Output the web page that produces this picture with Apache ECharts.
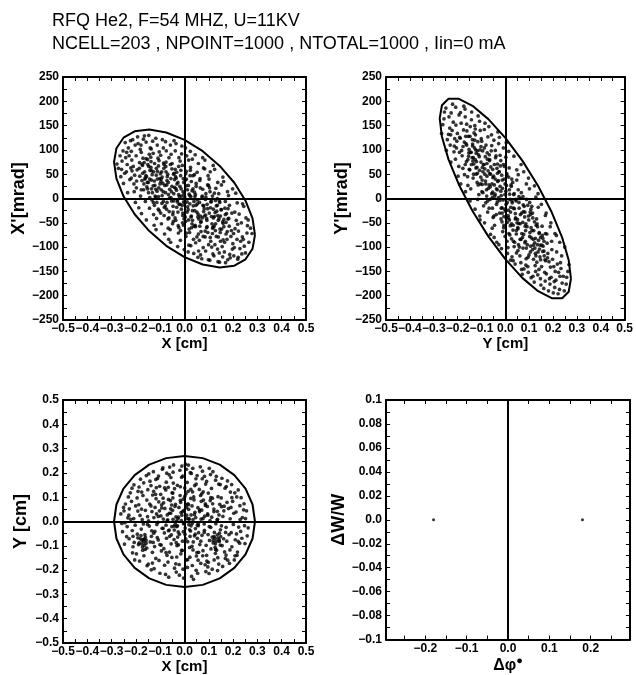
<!DOCTYPE html>
<html><head><meta charset="utf-8">
<script src="https://cdn.jsdelivr.net/npm/echarts@6/dist/echarts.min.js"></script>
<style>html,body{margin:0;padding:0;background:#fff}#c{width:636px;height:675px}</style>
</head><body><div id="c"></div>
<script>
const titleLines = ['RFQ He2, F=54 MHZ, U=11KV', 'NCELL=203 , NPOINT=1000 , NTOTAL=1000 , Iin=0 mA'];

// tick label values
const cmTicks = [-0.5,-0.4,-0.3,-0.2,-0.1,0,0.1,0.2,0.3,0.4,0.5];
const cmTickMarks = [-0.5,-0.45,-0.4,-0.35,-0.3,-0.25,-0.2,-0.15,-0.1,-0.05,0,0.05,0.1,0.15,0.2,0.25,0.3,0.35,0.4,0.45,0.5];
const mradTicks = [-250,-200,-150,-100,-50,0,50,100,150,200,250];
const mradTickMarks = [-250,-225,-200,-175,-150,-125,-100,-75,-50,-25,0,25,50,75,100,125,150,175,200,225,250];
const dphiTicks = [-0.2,-0.1,0,0.1,0.2];
const dphiTickMarks = [-0.25,-0.2,-0.15,-0.1,-0.05,0,0.05,0.1,0.15,0.2,0.25];
const dwTicks = [-0.1,-0.08,-0.06,-0.04,-0.02,0,0.02,0.04,0.06,0.08,0.1];
const dwTickMarks = [-0.1,-0.09,-0.08,-0.07,-0.06,-0.05,-0.04,-0.03,-0.02,-0.01,0,0.01,0.02,0.03,0.04,0.05,0.06,0.07,0.08,0.09,0.1];
const dphiRange = [-0.295, 0.295];

// emittance ellipses
const ellipseXXp = [[0.29,-74.8],[0.28,-103.5],[0.251,-125.1],[0.205,-138.3],[0.145,-141.9],[0.0751,-135.9],[0,-120.7],[-0.0751,-97.3],[-0.145,-67.1],[-0.205,-32.4],[-0.251,4.5],[-0.28,41],[-0.29,74.8],[-0.28,103.5],[-0.251,125.1],[-0.205,138.3],[-0.145,141.9],[-0.0751,135.9],[0,120.7],[0.0751,97.3],[0.145,67.1],[0.205,32.4],[0.251,-4.5],[0.28,-41],[0.29,-74.8]];
const ellipseYYp = [[0.275,-165],[0.2656,-191.8],[0.2382,-205.4],[0.1945,-205],[0.1375,-190.7],[0.0712,-163.3],[0,-124.9],[-0.0712,-77.9],[-0.1375,-25.6],[-0.1945,28.4],[-0.2382,80.5],[-0.2656,127.2],[-0.275,165],[-0.2656,191.8],[-0.2382,205.4],[-0.1945,205],[-0.1375,190.7],[-0.0712,163.3],[0,124.9],[0.0712,77.9],[0.1375,25.6],[0.1945,-28.4],[0.2382,-80.5],[0.2656,-127.2],[0.275,-165]];
const ellipseXY = [[0.29,0],[0.2801,0.0699],[0.2511,0.135],[0.2051,0.1909],[0.145,0.2338],[0.0751,0.2608],[0,0.27],[-0.0751,0.2608],[-0.145,0.2338],[-0.2051,0.1909],[-0.2511,0.135],[-0.2801,0.0699],[-0.29,0],[-0.2801,-0.0699],[-0.2511,-0.135],[-0.2051,-0.1909],[-0.145,-0.2338],[-0.0751,-0.2608],[0,-0.27],[0.0751,-0.2608],[0.145,-0.2338],[0.2051,-0.1909],[0.2511,-0.135],[0.2801,-0.0699],[0.29,0]];

// particles X [cm], X' [mrad]
const pointsXXp = [
[-0.272,62],[-0.265,88],[-0.278,71],[-0.262,45],
[-0.253,98],[-0.246,52],[-0.257,77],[-0.244,115],[-0.251,31],[-0.259,60],[-0.242,84],
[-0.231,104],[-0.225,39],[-0.236,70],[-0.222,119],[-0.239,55],[-0.228,88],[-0.234,12],[-0.221,63],[-0.238,95],
[-0.213,121],[-0.205,48],[-0.217,79],[-0.202,-8],[-0.219,97],[-0.208,30],[-0.211,66],[-0.203,110],[-0.216,57],[-0.207,14],[-0.219,42],
[-0.193,127],[-0.185,74],[-0.197,36],[-0.182,101],[-0.188,-19],[-0.195,59],[-0.184,46],[-0.199,88],[-0.181,5],[-0.191,113],[-0.186,62],[-0.198,22],
[-0.173,68],[-0.165,129],[-0.177,-31],[-0.162,42],[-0.178,95],[-0.168,18],[-0.171,83],[-0.164,55],[-0.179,110],[-0.161,-6],[-0.175,37],[-0.166,74],[-0.169,122],
[-0.153,33],[-0.145,91],[-0.157,-44],[-0.142,58],[-0.158,116],[-0.148,12],[-0.151,70],[-0.144,-20],[-0.159,47],[-0.141,104],[-0.155,24],[-0.147,130],[-0.152,80],[-0.143,40],
[-0.133,49],[-0.125,-55],[-0.137,102],[-0.122,27],[-0.138,64],[-0.128,-8],[-0.131,118],[-0.124,36],[-0.139,85],[-0.121,5],[-0.135,57],[-0.127,-33],[-0.129,93],[-0.136,20],[-0.123,72],
[-0.113,15],[-0.105,78],[-0.117,-64],[-0.102,41],[-0.118,124],[-0.108,-22],[-0.111,56],[-0.104,96],[-0.119,3],[-0.101,30],[-0.115,-41],[-0.107,67],[-0.112,110],[-0.106,22],[-0.116,48],
[-0.093,-10],[-0.085,62],[-0.097,35],[-0.082,-73],[-0.098,89],[-0.088,14],[-0.091,121],[-0.084,-35],[-0.099,51],[-0.081,27],[-0.095,-52],[-0.087,104],[-0.092,6],[-0.086,73],[-0.096,40],[-0.083,-18],
[-0.073,28],[-0.065,-84],[-0.077,66],[-0.062,1],[-0.078,117],[-0.068,-42],[-0.071,45],[-0.064,84],[-0.079,-15],[-0.061,19],[-0.075,98],[-0.067,-61],[-0.072,37],[-0.066,8],[-0.076,55],[-0.063,-27],
[-0.053,-5],[-0.045,50],[-0.057,-90],[-0.042,23],[-0.058,110],[-0.048,-33],[-0.051,72],[-0.044,10],[-0.059,-64],[-0.041,39],[-0.055,91],[-0.047,-16],[-0.052,61],[-0.046,-47],[-0.056,2],[-0.043,119],
[-0.033,17],[-0.025,-71],[-0.037,45],[-0.022,-12],[-0.038,98],[-0.028,-99],[-0.031,30],[-0.024,66],[-0.039,-40],[-0.021,4],[-0.035,113],[-0.027,-28],[-0.032,54],[-0.026,-56],[-0.036,21],[-0.023,84],[-0.029,-3],
[-0.013,-22],[-0.005,41],[-0.017,-86],[-0.002,9],[-0.018,77],[-0.008,-50],[-0.011,108],[-0.004,-7],[-0.019,25],[-0.001,-105],[-0.015,58],[-0.007,-35],[-0.012,92],[-0.006,14],[-0.016,-66],[-0.003,33],[-0.009,-14],
[0.012,18],[0.005,-47],[0.017,79],[0.002,-9],[0.018,-96],[0.008,40],[0.011,-28],[0.004,104],[0.019,-63],[0.001,3],[0.015,-110],[0.007,56],[0.013,-17],[0.006,-78],[0.016,27],[0.003,-38],[0.009,88],
[0.033,-25],[0.025,64],[0.037,-84],[0.022,6],[0.038,-113],[0.028,35],[0.031,-52],[0.024,97],[0.039,-6],[0.021,-70],[0.035,20],[0.027,-38],[0.032,81],[0.026,-97],[0.036,-15],[0.023,47],[0.029,-60],
[0.053,-3],[0.045,-58],[0.057,72],[0.042,-25],[0.058,-108],[0.048,31],[0.051,-79],[0.044,90],[0.059,-42],[0.041,13],[0.055,-121],[0.047,-14],[0.052,54],[0.046,-91],[0.056,-32],[0.043,4],
[0.073,-40],[0.065,22],[0.077,-101],[0.062,-8],[0.078,63],[0.068,-68],[0.071,-124],[0.064,41],[0.079,-27],[0.061,-86],[0.075,84],[0.067,-49],[0.072,3],[0.066,-116],[0.076,-14],[0.063,-57],
[0.093,-12],[0.085,-79],[0.097,47],[0.082,-36],[0.098,-126],[0.088,10],[0.091,-60],[0.084,79],[0.099,-95],[0.081,-21],[0.095,28],[0.087,-108],[0.092,-45],[0.086,-2],[0.096,-70],[0.083,61],
[0.113,-52],[0.105,14],[0.117,-114],[0.102,-30],[0.118,68],[0.108,-88],[0.111,-6],[0.104,-127],[0.119,-40],[0.101,40],[0.115,-72],[0.107,-19],[0.112,-100],[0.106,55],[0.116,-61],
[0.133,-26],[0.125,-95],[0.137,33],[0.122,-57],[0.138,-130],[0.128,-4],[0.131,-78],[0.124,60],[0.139,-45],[0.121,-118],[0.135,-14],[0.127,-66],[0.129,21],[0.136,-104],[0.123,-37],
[0.153,-63],[0.145,-8],[0.157,-120],[0.142,-41],[0.158,44],[0.148,-88],[0.151,-23],[0.144,-131],[0.159,-51],[0.141,10],[0.155,-99],[0.147,-70],[0.152,28],[0.143,-112],
[0.173,-31],[0.165,-90],[0.177,14],[0.162,-58],[0.178,-126],[0.168,-6],[0.171,-73],[0.164,-110],[0.179,-42],[0.161,35],[0.175,-84],[0.166,-20],[0.169,-132],
[0.193,-66],[0.185,-14],[0.197,-104],[0.182,-41],[0.198,20],[0.188,-122],[0.191,-78],[0.184,-57],[0.199,-93],[0.181,6],[0.195,-30],[0.186,-115],
[0.213,-45],[0.205,-101],[0.217,-9],[0.202,-72],[0.219,-125],[0.208,-62],[0.211,11],[0.203,-118],[0.216,-84],[0.207,-28],[0.219,-53],
[0.231,-88],[0.225,-32],[0.236,-114],[0.222,-67],[0.239,-11],[0.228,-103],[0.234,-50],[0.221,-121],[0.238,-79],
[0.253,-40],[0.246,-98],[0.257,-71],[0.244,-16],[0.251,-112],[0.259,-56],[0.242,-84],
[0.272,-61],[0.265,-90],[0.278,-72],[0.262,-44],
[-0.172,52],[-0.167,30],[-0.175,71],[-0.163,40],[-0.178,18],
[-0.152,20],[-0.147,66],[-0.156,45],[-0.143,2],[-0.158,82],[-0.149,33],
[-0.132,12],[-0.127,55],[-0.136,38],[-0.124,-14],[-0.138,76],[-0.129,26],[-0.134,-3],
[-0.112,40],[-0.107,4],[-0.116,62],[-0.104,-25],[-0.118,19],[-0.109,83],[-0.114,-8],
[-0.092,44],[-0.087,-6],[-0.096,18],[-0.084,70],[-0.098,-30],[-0.089,31],[-0.094,55],
[-0.072,-8],[-0.067,33],[-0.076,75],[-0.064,-40],[-0.078,12],[-0.069,50],[-0.074,-22],
[-0.052,25],[-0.047,-28],[-0.056,41],[-0.044,-5],[-0.058,70],[-0.049,-52],[-0.054,14],[-0.043,52],
[-0.032,-18],[-0.027,33],[-0.036,-45],[-0.024,8],[-0.038,60],[-0.029,-7],[-0.034,42],[-0.023,-60],
[-0.012,5],[-0.007,-30],[-0.016,47],[-0.004,-55],[-0.018,-12],[-0.009,68],[-0.014,20],[-0.002,-42],
[0.011,-7],[0.006,26],[0.017,-44],[0.005,51],[0.019,9],[0.008,-71],[0.015,-23],[0.003,38],
[0.031,16],[0.028,-36],[0.035,47],[0.022,-11],[0.039,-57],[0.026,4],[0.033,-45],[0.024,58],
[0.051,-28],[0.048,25],[0.055,-38],[0.045,8],[0.057,-73],[0.041,49],[0.053,-11],[0.044,-55],
[0.073,5],[0.066,-36],[0.077,-78],[0.063,37],[0.079,-15],[0.068,-47],[0.075,19],
[0.091,-41],[0.088,3],[0.095,-21],[0.085,-67],[0.099,27],[0.087,-34],[0.093,-58],
[0.111,-37],[0.108,-7],[0.117,-59],[0.103,22],[0.119,-22],[0.106,-80],[0.115,5],
[0.131,-15],[0.128,-52],[0.137,-35],[0.123,11],[0.139,-79],[0.126,-29],[0.135,0],
[0.151,-23],[0.146,-63],[0.157,-48],[0.144,-5],[0.159,-85],[0.148,-36],
[0.171,-49],[0.168,-33],[0.176,-68],[0.162,-43],[0.179,-21]
];

// particles Y [cm], Y' [mrad]
const pointsYYp = [
[-0.262,152],[-0.255,178],[-0.267,134],[-0.257,164],
[-0.243,121],[-0.236,168],[-0.247,99],[-0.233,145],[-0.249,186],[-0.238,132],[-0.231,110],
[-0.223,140],[-0.215,96],[-0.227,176],[-0.212,123],[-0.228,75],[-0.218,157],[-0.221,194],[-0.214,108],[-0.229,131],
[-0.203,118],[-0.195,66],[-0.207,151],[-0.192,95],[-0.208,188],[-0.198,46],[-0.201,134],[-0.194,172],[-0.209,81],[-0.191,126],[-0.205,104],
[-0.183,99],[-0.175,141],[-0.187,30],[-0.172,116],[-0.188,177],[-0.178,62],[-0.181,88],[-0.174,190],[-0.189,124],[-0.171,49],[-0.185,155],[-0.177,107],
[-0.163,76],[-0.155,128],[-0.167,14],[-0.152,101],[-0.168,168],[-0.158,45],[-0.161,139],[-0.154,87],[-0.169,184],[-0.151,60],[-0.165,113],[-0.157,27],[-0.162,153],
[-0.143,95],[-0.135,42],[-0.147,148],[-0.132,71],[-0.148,-5],[-0.138,121],[-0.141,178],[-0.134,84],[-0.149,59],[-0.131,135],[-0.145,20],[-0.137,108],[-0.142,162],[-0.136,77],
[-0.123,63],[-0.115,117],[-0.127,-22],[-0.112,90],[-0.128,150],[-0.118,33],[-0.121,76],[-0.114,170],[-0.129,104],[-0.111,8],[-0.125,131],[-0.117,52],[-0.122,93],[-0.116,-2],[-0.126,143],
[-0.103,44],[-0.095,98],[-0.107,-36],[-0.092,70],[-0.108,159],[-0.098,14],[-0.101,123],[-0.094,55],[-0.109,86],[-0.091,-15],[-0.105,140],[-0.097,29],[-0.102,107],[-0.096,64],[-0.106,-44],
[-0.083,36],[-0.075,81],[-0.087,-50],[-0.072,57],[-0.088,142],[-0.078,5],[-0.081,110],[-0.074,-28],[-0.089,70],[-0.071,21],[-0.085,155],[-0.077,46],[-0.082,-9],[-0.076,94],[-0.086,61],[-0.073,127],
[-0.063,24],[-0.055,-61],[-0.067,90],[-0.052,43],[-0.068,-20],[-0.058,131],[-0.061,65],[-0.054,2],[-0.069,148],[-0.051,-39],[-0.065,51],[-0.057,109],[-0.062,-74],[-0.056,30],[-0.066,78],[-0.053,13],
[-0.043,9],[-0.035,62],[-0.047,-80],[-0.032,35],[-0.048,120],[-0.038,-33],[-0.041,84],[-0.034,-7],[-0.049,46],[-0.031,137],[-0.045,-55],[-0.037,20],[-0.042,99],[-0.036,-90],[-0.046,28],[-0.033,71],
[-0.023,-4],[-0.015,48],[-0.027,-95],[-0.012,21],[-0.028,113],[-0.018,-42],[-0.021,67],[-0.014,-19],[-0.029,37],[-0.011,-68],[-0.025,126],[-0.017,6],[-0.022,89],[-0.016,-103],[-0.026,55],[-0.013,-30],[-0.019,15],
[0.003,-12],[-0.005,40],[0.007,-88],[-0.002,8],[0.008,-49],[-0.008,104],[0.001,-26],[-0.004,66],[0.009,-113],[-0.009,-3],[0.005,27],[-0.007,-60],[0.002,85],[-0.006,-37],[0.006,51],[-0.001,-78],[0.004,115],
[0.023,-18],[0.015,-72],[0.027,40],[0.012,-35],[0.028,-120],[0.018,9],[0.021,-56],[0.014,97],[0.029,-9],[0.011,-101],[0.025,25],[0.017,-44],[0.022,-127],[0.016,63],[0.026,-83],[0.013,-24],[0.019,-2],
[0.043,-40],[0.035,8],[0.047,-112],[0.032,-65],[0.048,59],[0.038,-21],[0.041,-135],[0.034,-88],[0.049,-50],[0.031,33],[0.045,-5],[0.037,-99],[0.042,-31],[0.036,87],[0.046,-73],[0.033,-128],
[0.063,-33],[0.055,-95],[0.067,12],[0.052,-60],[0.068,-146],[0.058,-20],[0.061,-118],[0.054,49],[0.069,-72],[0.051,-43],[0.065,-132],[0.057,4],[0.062,-84],[0.056,-51],[0.066,70],[0.053,-107],
[0.083,-57],[0.075,-13],[0.087,-124],[0.072,-80],[0.088,30],[0.078,-145],[0.081,-38],[0.074,-102],[0.089,-2],[0.071,-156],[0.085,-66],[0.077,55],[0.082,-91],[0.076,-27],[0.086,-137],[0.073,-49],
[0.103,-70],[0.095,-121],[0.107,-22],[0.092,-95],[0.108,-163],[0.098,-44],[0.101,20],[0.094,-140],[0.109,-81],[0.091,-58],[0.105,-110],[0.097,42],[0.102,-8],[0.096,-152],[0.106,-33],
[0.123,-91],[0.115,-40],[0.127,-150],[0.112,-66],[0.128,3],[0.118,-125],[0.121,-172],[0.114,-105],[0.129,-55],[0.111,-16],[0.125,-138],[0.117,-84],[0.122,26],[0.116,-160],[0.126,-113],
[0.143,-104],[0.135,-58],[0.147,-165],[0.132,-131],[0.148,-80],[0.138,-18],[0.141,-146],[0.134,-95],[0.149,-178],[0.131,-42],[0.145,-120],[0.137,10],[0.142,-70],[0.136,-157],
[0.163,-118],[0.155,-76],[0.167,-170],[0.152,-140],[0.168,-35],[0.158,-98],[0.161,-185],[0.154,-57],[0.169,-128],[0.151,-12],[0.165,-152],[0.157,-109],[0.162,-88],
[0.183,-130],[0.175,-92],[0.187,-176],[0.172,-155],[0.188,-58],[0.178,-113],[0.181,-190],[0.174,-73],[0.189,-141],[0.171,-30],[0.185,-165],[0.177,-122],
[0.203,-140],[0.195,-105],[0.207,-183],[0.192,-162],[0.208,-72],[0.198,-125],[0.201,-194],[0.194,-88],[0.209,-150],[0.191,-50],[0.205,-171],
[0.223,-152],[0.215,-110],[0.227,-187],[0.212,-168],[0.228,-90],[0.218,-135],[0.221,-196],[0.214,-76],[0.229,-160],
[0.243,-160],[0.236,-118],[0.247,-190],[0.233,-144],[0.249,-100],[0.238,-174],[0.231,-132],
[0.262,-150],[0.255,-176],[0.267,-136],[0.257,-162],
[-0.162,110],[-0.157,80],[-0.166,128],[-0.153,94],[-0.168,70],
[-0.142,70],[-0.137,112],[-0.146,95],[-0.133,50],[-0.148,128],[-0.139,84],
[-0.122,50],[-0.117,98],[-0.126,80],[-0.114,28],[-0.128,120],[-0.119,64],[-0.124,100],
[-0.102,75],[-0.097,38],[-0.106,100],[-0.094,12],[-0.108,58],[-0.099,118],[-0.104,30],
[-0.082,30],[-0.077,72],[-0.086,50],[-0.074,-5],[-0.088,104],[-0.079,18],[-0.084,86],
[-0.062,50],[-0.057,10],[-0.066,80],[-0.054,-20],[-0.068,28],[-0.059,98],[-0.064,-2],[-0.053,60],
[-0.042,40],[-0.037,-12],[-0.046,70],[-0.034,18],[-0.048,-36],[-0.039,88],[-0.044,5],[-0.033,52],
[-0.022,25],[-0.017,-20],[-0.026,55],[-0.014,-48],[-0.028,2],[-0.019,78],[-0.024,-30],[-0.013,38],
[0.002,15],[-0.003,-22],[0.006,48],[-0.006,-55],[0.008,-8],[-0.008,70],[0.004,-40],[-0.001,30],
[0.022,-28],[0.017,18],[0.026,-52],[0.014,44],[0.028,-5],[0.019,-75],[0.024,28],[0.013,-40],
[0.042,-42],[0.037,10],[0.046,-66],[0.034,-20],[0.048,38],[0.039,-90],[0.044,-2],[0.033,-55],
[0.062,-52],[0.057,-8],[0.066,-84],[0.054,18],[0.068,-30],[0.059,-100],[0.064,0],[0.053,-62],
[0.082,-28],[0.077,-74],[0.086,-52],[0.074,4],[0.088,-102],[0.079,-16],[0.084,-88],
[0.102,-78],[0.097,-36],[0.106,-98],[0.094,-14],[0.108,-60],[0.099,-116],[0.104,-28],
[0.122,-48],[0.117,-96],[0.126,-82],[0.114,-30],[0.128,-118],[0.119,-66],[0.124,-102],
[0.142,-72],[0.137,-110],[0.146,-96],[0.133,-52],[0.148,-126],[0.139,-86],
[0.162,-108],[0.157,-82],[0.166,-126],[0.153,-96],[0.168,-72]
];

// particles X [cm], Y [cm]
const pointsXY = [
[-0.262,0.031],[-0.255,-0.042],[-0.258,-0.008],[-0.251,0.058],
[-0.243,0.072],[-0.236,-0.021],[-0.247,-0.093],[-0.233,0.015],[-0.249,0.044],[-0.238,-0.062],[-0.231,0.101],[-0.245,-0.005],
[-0.223,0.118],[-0.215,-0.037],[-0.227,0.052],[-0.212,-0.104],[-0.228,-0.071],[-0.218,0.083],[-0.221,0.009],[-0.214,-0.129],[-0.229,0.026],[-0.216,0.137],
[-0.203,-0.015],[-0.195,0.097],[-0.207,-0.086],[-0.192,0.043],[-0.208,0.151],[-0.198,-0.133],[-0.201,0.064],[-0.194,-0.052],[-0.209,0.012],[-0.191,0.124],[-0.205,-0.158],
[-0.183,0.025],[-0.175,-0.077],[-0.187,0.142],[-0.172,-0.118],[-0.188,0.069],[-0.178,-0.031],[-0.181,0.174],[-0.174,0.008],[-0.189,-0.095],[-0.171,0.107],[-0.185,-0.163],[-0.177,0.051],
[-0.163,-0.054],[-0.155,0.088],[-0.167,-0.141],[-0.152,0.020],[-0.168,0.159],[-0.158,-0.089],[-0.161,0.046],[-0.154,-0.182],[-0.169,-0.010],[-0.151,0.131],[-0.165,-0.072],[-0.157,0.189],[-0.162,-0.115],
[-0.143,0.072],[-0.135,-0.038],[-0.147,0.196],[-0.132,-0.127],[-0.148,0.003],[-0.138,0.148],[-0.141,-0.084],[-0.134,0.041],[-0.149,-0.175],[-0.131,0.109],[-0.145,-0.019],[-0.137,-0.199],[-0.142,0.166],[-0.136,-0.061],
[-0.123,-0.103],[-0.115,0.031],[-0.127,0.124],[-0.112,-0.066],[-0.128,0.205],[-0.118,-0.152],[-0.121,0.058],[-0.114,-0.012],[-0.129,-0.086],[-0.111,0.177],[-0.125,-0.194],[-0.117,0.094],[-0.122,-0.041],[-0.116,0.139],[-0.126,0.016],
[-0.103,0.044],[-0.095,-0.121],[-0.107,0.187],[-0.092,-0.028],[-0.108,-0.076],[-0.098,0.112],[-0.101,-0.213],[-0.094,0.069],[-0.109,-0.003],[-0.091,0.215],[-0.105,-0.160],[-0.097,0.023],[-0.102,0.145],[-0.096,-0.097],[-0.106,0.081],
[-0.083,-0.047],[-0.075,0.162],[-0.087,0.010],[-0.072,-0.139],[-0.088,0.096],[-0.078,-0.218],[-0.081,0.054],[-0.074,-0.069],[-0.089,0.221],[-0.071,0.027],[-0.085,-0.112],[-0.077,0.130],[-0.082,-0.180],[-0.076,-0.015],[-0.086,0.077],[-0.073,0.199],
[-0.063,0.034],[-0.055,-0.092],[-0.067,0.141],[-0.052,-0.021],[-0.068,-0.167],[-0.058,0.086],[-0.061,0.224],[-0.054,-0.055],[-0.069,0.007],[-0.051,0.118],[-0.065,-0.229],[-0.057,0.052],[-0.062,-0.126],[-0.056,0.181],[-0.066,-0.038],[-0.053,0.068],
[-0.043,-0.074],[-0.035,0.019],[-0.047,0.203],[-0.032,-0.146],[-0.048,0.097],[-0.038,-0.011],[-0.041,0.135],[-0.034,-0.208],[-0.049,0.046],[-0.031,-0.099],[-0.045,0.233],[-0.037,0.071],[-0.042,-0.035],[-0.036,-0.174],[-0.046,0.158],[-0.033,0.002],
[-0.023,0.058],[-0.015,-0.133],[-0.027,0.011],[-0.012,0.182],[-0.028,-0.064],[-0.018,0.107],[-0.021,-0.221],[-0.014,0.037],[-0.029,-0.018],[-0.011,0.228],[-0.025,-0.096],[-0.017,0.143],[-0.022,-0.177],[-0.016,0.079],[-0.026,-0.043],[-0.013,0.004],[-0.019,0.211],
[0.003,-0.027],[-0.005,0.092],[0.007,-0.158],[-0.002,0.046],[0.008,0.215],[-0.008,-0.081],[0.001,0.138],[-0.004,-0.233],[0.009,0.012],[-0.009,-0.119],[0.005,0.069],[-0.007,0.187],[0.002,-0.052],[-0.006,-0.196],[0.006,0.114],[-0.001,-0.008],[0.004,0.236],
[0.023,-0.061],[0.015,0.124],[0.027,0.027],[0.012,-0.189],[0.028,0.198],[0.018,-0.013],[0.021,-0.107],[0.014,0.073],[0.029,-0.226],[0.011,0.161],[0.025,-0.039],[0.017,0.050],[0.022,-0.147],[0.016,0.232],[0.026,0.095],[0.013,-0.083],[0.019,0.009],
[0.043,0.038],[0.035,-0.117],[0.047,0.176],[0.032,-0.008],[0.048,-0.201],[0.038,0.101],[0.041,-0.059],[0.034,0.219],[0.049,-0.142],[0.031,0.064],[0.045,-0.029],[0.037,-0.238],[0.042,0.148],[0.036,-0.084],[0.046,0.016],[0.033,0.122],
[0.063,-0.095],[0.055,0.057],[0.067,-0.172],[0.052,0.189],[0.068,0.010],[0.058,-0.046],[0.061,0.132],[0.054,-0.213],[0.069,0.083],[0.051,-0.128],[0.065,0.225],[0.057,-0.017],[0.062,0.041],[0.056,-0.159],[0.066,0.107],[0.053,-0.069],
[0.083,0.022],[0.075,-0.141],[0.087,0.154],[0.072,-0.057],[0.088,-0.206],[0.078,0.088],[0.081,-0.010],[0.074,0.207],[0.089,-0.098],[0.071,0.047],[0.085,-0.178],[0.077,0.122],[0.082,-0.036],[0.076,-0.120],[0.086,0.066],[0.073,0.176],
[0.103,-0.078],[0.095,0.031],[0.107,0.193],[0.092,-0.163],[0.108,-0.024],[0.098,0.117],[0.101,-0.214],[0.094,0.062],[0.109,-0.113],[0.091,0.165],[0.105,0.004],[0.097,-0.054],[0.102,0.219],[0.096,-0.187],[0.106,0.086],
[0.123,-0.045],[0.115,0.096],[0.127,-0.131],[0.112,0.018],[0.128,0.170],[0.118,-0.088],[0.121,0.051],[0.114,-0.196],[0.129,-0.009],[0.111,0.136],[0.125,-0.069],[0.117,0.205],[0.122,-0.158],[0.116,0.073],[0.126,-0.106],
[0.143,-0.082],[0.135,0.042],[0.147,0.152],[0.132,-0.118],[0.148,-0.034],[0.138,0.102],[0.141,-0.175],[0.134,0.006],[0.149,-0.062],[0.131,0.186],[0.145,0.071],[0.137,-0.149],[0.142,0.027],[0.136,-0.202],
[0.163,0.063],[0.155,-0.099],[0.167,0.137],[0.152,-0.018],[0.168,-0.152],[0.158,0.021],[0.161,-0.071],[0.154,0.178],[0.169,-0.045],[0.151,0.097],[0.165,-0.125],[0.157,-0.185],[0.162,0.044],
[0.183,-0.054],[0.175,0.079],[0.187,-0.117],[0.172,0.144],[0.188,0.011],[0.178,-0.159],[0.181,0.053],[0.174,-0.081],[0.189,0.121],[0.171,-0.024],[0.185,-0.172],[0.177,0.167],
[0.203,0.034],[0.195,-0.104],[0.207,0.118],[0.192,-0.046],[0.208,-0.141],[0.198,0.083],[0.201,-0.012],[0.194,0.152],[0.209,-0.075],[0.191,0.058],[0.205,-0.158],
[0.223,-0.023],[0.215,0.101],[0.227,-0.089],[0.212,0.039],[0.228,0.065],[0.218,-0.126],[0.221,0.130],[0.214,-0.051],[0.229,0.008],[0.216,-0.139],
[0.243,0.048],[0.236,-0.069],[0.247,-0.017],[0.233,0.098],[0.249,-0.091],[0.238,0.016],[0.231,-0.041],[0.245,0.073],
[0.262,-0.026],[0.255,0.044],[0.258,-0.059],[0.251,0.012],
[-0.152,-0.012],[-0.138,0.064],[-0.127,-0.048],[-0.119,0.112],[-0.108,0.021],[-0.101,-0.095],[-0.094,0.056],[-0.088,-0.028],[-0.082,0.138],[-0.076,-0.128],[-0.071,0.004],[-0.066,0.091],[-0.061,-0.061],[-0.057,0.034],[-0.052,-0.148],[-0.048,0.117],[-0.043,-0.019],[-0.039,0.062],[-0.034,-0.087],[-0.029,0.149],[-0.025,0.018],[-0.021,-0.052],[-0.017,0.087],[-0.012,-0.119],[-0.008,0.041],[-0.004,-0.009],[0.001,0.103],[0.005,-0.071],[0.009,0.026],[0.013,-0.157],[0.017,0.069],[0.021,-0.034],[0.026,0.132],[0.031,-0.102],[0.035,0.008],[0.039,0.089],[0.044,-0.052],[0.048,0.154],[0.053,-0.015],[0.058,-0.127],[0.062,0.048],[0.067,-0.081],[0.071,0.114],[0.076,0.012],[0.081,-0.045],[0.086,0.073],[0.091,-0.139],[0.096,0.026],[0.102,-0.021],[0.108,0.098],[0.114,-0.064],[0.121,0.041],[0.128,-0.115],[0.136,0.009],[0.144,-0.048],[0.152,0.061],
[-0.182,-0.071],[-0.176,-0.092],[-0.168,-0.083],[-0.161,-0.064],[-0.173,-0.105],[-0.187,-0.088],[-0.165,-0.098],[-0.158,-0.077],[-0.179,-0.058],[-0.17,-0.074],[-0.192,-0.067],[-0.155,-0.109],
[0.122,-0.062],[0.131,-0.081],[0.138,-0.068],[0.127,-0.092],[0.143,-0.076],[0.118,-0.078],[0.135,-0.055],[0.147,-0.097],
[-0.032,-0.021],[0.018,0.012],[-0.011,0.026],[0.027,-0.018],[-0.047,0.009],[0.041,0.029],[-0.063,-0.035],[0.057,-0.008],[-0.005,-0.042],[0.008,0.058],
[-0.118,0.173],[-0.063,0.192],[0.024,0.201],[0.082,0.186],[0.141,0.154],[-0.176,0.121],[0.195,0.098],
[-0.132,-0.171],[-0.041,-0.192],[0.032,-0.181],[0.098,-0.168],[0.171,-0.138],[-0.212,-0.061],[0.221,-0.082]
];

// longitudinal: delta phi [deg], dW/W
const pointsPhiW = [[-0.18,0],[0.18,0]];

const FONT = "'Liberation Sans', Arial, Helvetica, sans-serif";
const M = '\u2212';
const fmt1 = v => (v < 0 ? M : '') + Math.abs(v).toFixed(1);
const fmtInt = v => (v < 0 ? M : '') + Math.abs(Math.round(v));
const fmt2 = v => { let s = Math.abs(v).toFixed(2); if (s.endsWith('0')) s = s.slice(0, -1); return (v < 0 ? M : '') + s; };

const grids = [
  {left: 63, top: 77, width: 243, height: 243},
  {left: 386, top: 77, width: 244, height: 243},
  {left: 63, top: 400, width: 243, height: 243},
  {left: 386, top: 400, width: 244, height: 243}
];
const lineStyle = {color: '#000', width: 2};
const labelStyle = {color: '#000', fontFamily: FONT, fontSize: 12, fontWeight: 'bold'};
const nameStyle = {color: '#000', fontFamily: FONT, fontSize: 15, fontWeight: 'bold'};
const yNameStyle = {color: '#000', fontFamily: FONT, fontSize: 18, fontWeight: 'bold'};

const xAxes = [], yAxes = [];
function addAxes(g, xr, xLab, xMarks, xFmt, xName, xNameStyle, yr, yLab, yMarks, yFmt, yName) {
  const common = {gridIndex: g, type: 'value', splitLine: {show: false}, axisLine: {show: true, onZero: false, lineStyle}};
  xAxes.push(Object.assign({}, common, {position: 'bottom', min: xr[0], max: xr[1],
    name: xName, nameLocation: 'middle', nameGap: 14, nameTextStyle: xNameStyle || nameStyle,
    axisTick: {show: true, inside: true, length: 4, customValues: xMarks, lineStyle: {color: '#000', width: 1}},
    axisLabel: Object.assign({customValues: xLab, formatter: xFmt, margin: 3, hideOverlap: false, showMinLabel: true, showMaxLabel: true}, labelStyle)}));
  xAxes.push(Object.assign({}, common, {position: 'top', min: xr[0], max: xr[1],
    axisTick: {show: true, inside: true, length: 4, customValues: xMarks, lineStyle: {color: '#000', width: 1}},
    axisLabel: {show: false}}));
  yAxes.push(Object.assign({}, common, {position: 'left', min: yr[0], max: yr[1],
    name: yName, nameLocation: 'middle', nameGap: 33, nameTextStyle: yNameStyle,
    axisTick: {show: true, inside: true, length: 4, customValues: yMarks, lineStyle: {color: '#000', width: 1}},
    axisLabel: Object.assign({customValues: yLab, formatter: yFmt, margin: 4, hideOverlap: false, showMinLabel: true, showMaxLabel: true}, labelStyle)}));
  yAxes.push(Object.assign({}, common, {position: 'right', min: yr[0], max: yr[1],
    axisTick: {show: true, inside: true, length: 4, customValues: yMarks, lineStyle: {color: '#000', width: 1}},
    axisLabel: {show: false}}));
}
addAxes(0, [-0.5, 0.5], cmTicks, cmTickMarks, fmt1, 'X [cm]', null, [-250, 250], mradTicks, mradTickMarks, fmtInt, "X'[mrad]");
addAxes(1, [-0.5, 0.5], cmTicks, cmTickMarks, fmt1, 'Y [cm]', null, [-250, 250], mradTicks, mradTickMarks, fmtInt, "Y'[mrad]");
addAxes(2, [-0.5, 0.5], cmTicks, cmTickMarks, fmt1, 'X [cm]', null, [-0.5, 0.5], cmTicks, cmTickMarks, fmt1, 'Y [cm]');
addAxes(3, dphiRange, dphiTicks, dphiTickMarks, fmt1, '{a|\u0394\u03c6}{b|\u25cf}',
  Object.assign({}, nameStyle, {rich: {a: {fontFamily: FONT, fontSize: 16, fontWeight: 'bold', color: '#000'}, b: {fontSize: 11, color: '#000', padding: [0, 0, 10, 0]}}}),
  [-0.1, 0.1], dwTicks, dwTickMarks, fmt2, '\u0394W/W');

const zeroLine = (both) => ({
  silent: true, symbol: ['none', 'none'], animation: false,
  label: {show: false},
  lineStyle: {color: '#000', width: 2, type: 'solid'},
  emphasis: {disabled: true},
  data: both ? [{xAxis: 0}, {yAxis: 0}] : [{xAxis: 0}]
});
const scat = (i, data, both, size) => ({
  type: 'scatter', xAxisIndex: 2 * i, yAxisIndex: 2 * i, data,
  symbol: 'circle', symbolSize: size, itemStyle: {color: '#000'}, silent: true,
  markLine: zeroLine(both), z: 3
});
const ell = (i, data) => ({
  type: 'line', xAxisIndex: 2 * i, yAxisIndex: 2 * i, data, showSymbol: false, symbol: 'none',
  lineStyle: {color: '#000', width: 2}, silent: true, z: 4
});

const chart = echarts.init(document.getElementById('c'), null, {renderer: 'canvas'});
chart.setOption({
  animation: false,
  backgroundColor: '#fff',
  title: {text: titleLines.join('\n'), left: 47, top: 5,
    textStyle: {fontFamily: FONT, fontSize: 18, fontWeight: 'normal', color: '#000', lineHeight: 22.5}},
  grid: grids,
  xAxis: xAxes,
  yAxis: yAxes,
  series: [
    scat(0, pointsXXp, true, 3.7), ell(0, ellipseXXp),
    scat(1, pointsYYp, true, 3.7), ell(1, ellipseYYp),
    scat(2, pointsXY, true, 3.7), ell(2, ellipseXY),
    scat(3, pointsPhiW, false, 3)
  ]
});
</script></body></html>
